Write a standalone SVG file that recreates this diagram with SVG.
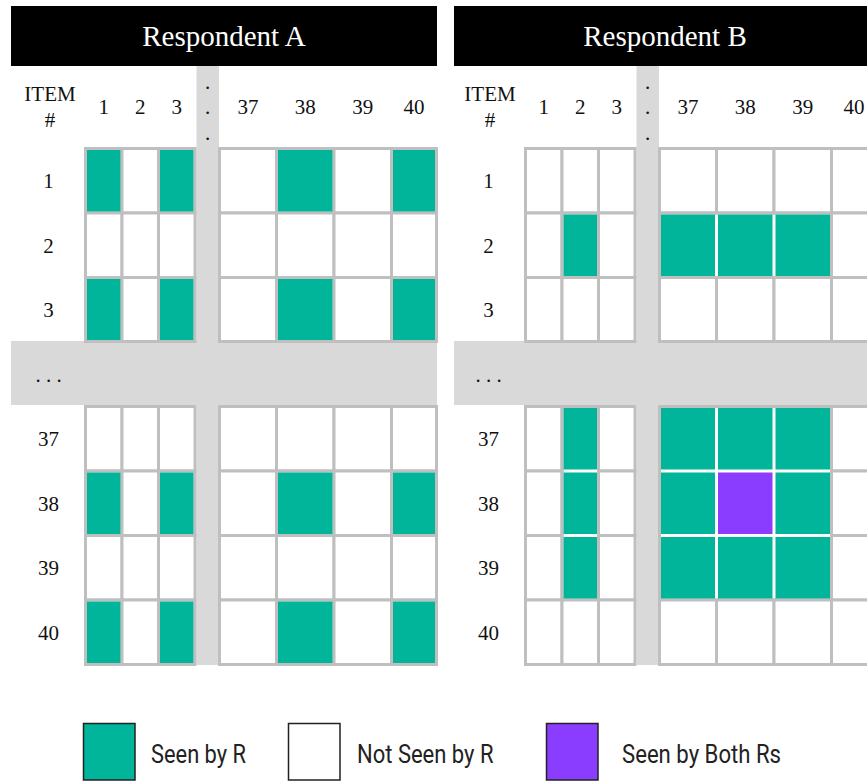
<svg xmlns="http://www.w3.org/2000/svg" width="867" height="781" viewBox="0 0 867 781">
<style>
.hdr{fill:#000}
.ttl{font-family:"Liberation Serif","Times New Roman",serif;font-size:29px;fill:#fff;text-anchor:middle}
.lbl{font-family:"Liberation Serif","Times New Roman",serif;font-size:21px;fill:#111;text-anchor:middle}
.band{fill:#d9d9d9}
.cell{fill:#fff;stroke:#bfbfbf;stroke-width:3}
.g{fill:#00b59a}
.p{fill:#8b3dff}
.sep{stroke:#fff;stroke-width:3}
.leg{font-family:Roboto,"Liberation Sans",sans-serif;font-size:26px;fill:#222}
.lbox{stroke:#222;stroke-width:1.5}
</style>
<defs>
<g id="grid">
<rect class="band" x="196.5" y="66" width="22.5" height="599"/>
<g>
<rect class="cell" x="85.5" y="148.5" width="36.5" height="64.5"/><rect class="cell" x="122" y="148.5" width="36.5" height="64.5"/><rect class="cell" x="158.5" y="148.5" width="36.5" height="64.5"/>
<rect class="cell" x="219.5" y="148.5" width="57" height="64.5"/><rect class="cell" x="276.5" y="148.5" width="57.5" height="64.5"/><rect class="cell" x="334" y="148.5" width="57.5" height="64.5"/><rect class="cell" x="391.5" y="148.5" width="45" height="64.5"/>
<rect class="cell" x="85.5" y="213" width="36.5" height="64.5"/><rect class="cell" x="122" y="213" width="36.5" height="64.5"/><rect class="cell" x="158.5" y="213" width="36.5" height="64.5"/>
<rect class="cell" x="219.5" y="213" width="57" height="64.5"/><rect class="cell" x="276.5" y="213" width="57.5" height="64.5"/><rect class="cell" x="334" y="213" width="57.5" height="64.5"/><rect class="cell" x="391.5" y="213" width="45" height="64.5"/>
<rect class="cell" x="85.5" y="277.5" width="36.5" height="64"/><rect class="cell" x="122" y="277.5" width="36.5" height="64"/><rect class="cell" x="158.5" y="277.5" width="36.5" height="64"/>
<rect class="cell" x="219.5" y="277.5" width="57" height="64"/><rect class="cell" x="276.5" y="277.5" width="57.5" height="64"/><rect class="cell" x="334" y="277.5" width="57.5" height="64"/><rect class="cell" x="391.5" y="277.5" width="45" height="64"/>
<rect class="cell" x="85.5" y="406.5" width="36.5" height="64.5"/><rect class="cell" x="122" y="406.5" width="36.5" height="64.5"/><rect class="cell" x="158.5" y="406.5" width="36.5" height="64.5"/>
<rect class="cell" x="219.5" y="406.5" width="57" height="64.5"/><rect class="cell" x="276.5" y="406.5" width="57.5" height="64.5"/><rect class="cell" x="334" y="406.5" width="57.5" height="64.5"/><rect class="cell" x="391.5" y="406.5" width="45" height="64.5"/>
<rect class="cell" x="85.5" y="471" width="36.5" height="64.5"/><rect class="cell" x="122" y="471" width="36.5" height="64.5"/><rect class="cell" x="158.5" y="471" width="36.5" height="64.5"/>
<rect class="cell" x="219.5" y="471" width="57" height="64.5"/><rect class="cell" x="276.5" y="471" width="57.5" height="64.5"/><rect class="cell" x="334" y="471" width="57.5" height="64.5"/><rect class="cell" x="391.5" y="471" width="45" height="64.5"/>
<rect class="cell" x="85.5" y="535.5" width="36.5" height="64.5"/><rect class="cell" x="122" y="535.5" width="36.5" height="64.5"/><rect class="cell" x="158.5" y="535.5" width="36.5" height="64.5"/>
<rect class="cell" x="219.5" y="535.5" width="57" height="64.5"/><rect class="cell" x="276.5" y="535.5" width="57.5" height="64.5"/><rect class="cell" x="334" y="535.5" width="57.5" height="64.5"/><rect class="cell" x="391.5" y="535.5" width="45" height="64.5"/>
<rect class="cell" x="85.5" y="600" width="36.5" height="64.5"/><rect class="cell" x="122" y="600" width="36.5" height="64.5"/><rect class="cell" x="158.5" y="600" width="36.5" height="64.5"/>
<rect class="cell" x="219.5" y="600" width="57" height="64.5"/><rect class="cell" x="276.5" y="600" width="57.5" height="64.5"/><rect class="cell" x="334" y="600" width="57.5" height="64.5"/><rect class="cell" x="391.5" y="600" width="45" height="64.5"/>
</g>
<text class="lbl" x="50" y="101">ITEM</text>
<text class="lbl" x="50" y="127">#</text>
<text class="lbl" x="103.75" y="114">1</text>
<text class="lbl" x="140.25" y="114">2</text>
<text class="lbl" x="176.75" y="114">3</text>
<text class="lbl" x="207.5" y="88.5">.</text>
<text class="lbl" x="207.5" y="114">.</text>
<text class="lbl" x="207.5" y="139.5">.</text>
<text class="lbl" x="248" y="114">37</text>
<text class="lbl" x="305.25" y="114">38</text>
<text class="lbl" x="362.75" y="114">39</text>
<text class="lbl" x="414" y="114">40</text>
<text class="lbl" x="48.5" y="188">1</text>
<text class="lbl" x="48.5" y="252.5">2</text>
<text class="lbl" x="48.5" y="316.5">3</text>
<text class="lbl" x="48.5" y="382">. . .</text>
<text class="lbl" x="48.5" y="446">37</text>
<text class="lbl" x="48.5" y="510.5">38</text>
<text class="lbl" x="48.5" y="575">39</text>
<text class="lbl" x="48.5" y="639.5">40</text>
</g>
</defs>

<g id="respondent-a">
<rect class="band" x="11" y="341" width="426" height="64"/>
<use href="#grid"/>
<rect class="hdr" x="11" y="6" width="426" height="60"/>
<text class="ttl" x="224" y="46">Respondent A</text>
<g id="a-seen">
<rect class="g" x="87" y="150" width="33.5" height="61.5"/><rect class="g" x="160" y="150" width="33.5" height="61.5"/><rect class="g" x="278" y="150" width="54.5" height="61.5"/><rect class="g" x="393" y="150" width="42" height="61.5"/>
<rect class="g" x="87" y="279" width="33.5" height="61"/><rect class="g" x="160" y="279" width="33.5" height="61"/><rect class="g" x="278" y="279" width="54.5" height="61"/><rect class="g" x="393" y="279" width="42" height="61"/>
<rect class="g" x="87" y="472.5" width="33.5" height="61.5"/><rect class="g" x="160" y="472.5" width="33.5" height="61.5"/><rect class="g" x="278" y="472.5" width="54.5" height="61.5"/><rect class="g" x="393" y="472.5" width="42" height="61.5"/>
<rect class="g" x="87" y="601.5" width="33.5" height="61.5"/><rect class="g" x="160" y="601.5" width="33.5" height="61.5"/><rect class="g" x="278" y="601.5" width="54.5" height="61.5"/><rect class="g" x="393" y="601.5" width="42" height="61.5"/>
</g>
</g>

<g id="respondent-b">
<rect class="band" x="454" y="341" width="413" height="64"/>
<use href="#grid" transform="translate(440,0)"/>
<rect class="hdr" x="454" y="6" width="422" height="60"/>
<text class="ttl" x="665" y="46">Respondent B</text>
<g id="b-seen">
<rect class="g" x="563.5" y="214.5" width="33.5" height="61.5"/>
<rect class="g" x="661" y="214.5" width="169" height="61.5"/>
<rect class="g" x="563.5" y="408" width="33.5" height="190.5"/>
<rect class="g" x="661" y="408" width="169" height="190.5"/>
<rect class="p" x="716.5" y="471" width="57.5" height="64.5"/>
</g>
<g id="b-separators">
<line class="sep" x1="716.5" y1="214.5" x2="716.5" y2="276"/>
<line class="sep" x1="774" y1="214.5" x2="774" y2="276"/>
<line class="sep" x1="563.5" y1="471" x2="597" y2="471"/>
<line class="sep" x1="563.5" y1="535.5" x2="597" y2="535.5"/>
<line class="sep" x1="716.5" y1="408" x2="716.5" y2="598.5"/>
<line class="sep" x1="774" y1="408" x2="774" y2="598.5"/>
<line class="sep" x1="661" y1="471" x2="830" y2="471"/>
<line class="sep" x1="661" y1="535.5" x2="830" y2="535.5"/>
</g>
</g>

<g id="legend">
<g id="legend-seen">
<rect class="lbox g" x="83.5" y="723.5" width="51.5" height="56.5"/>
<text class="leg" x="151" y="763" textLength="95" lengthAdjust="spacingAndGlyphs">Seen by R</text>
</g>
<g id="legend-not-seen">
<rect class="lbox" fill="#fff" x="288.5" y="723.5" width="51.5" height="56.5"/>
<text class="leg" x="357" y="763" textLength="136.5" lengthAdjust="spacingAndGlyphs">Not Seen by R</text>
</g>
<g id="legend-both">
<rect class="lbox p" x="546.5" y="723.5" width="51.5" height="56.5"/>
<text class="leg" x="622" y="763" textLength="159" lengthAdjust="spacingAndGlyphs">Seen by Both Rs</text>
</g>
</g>
</svg>
